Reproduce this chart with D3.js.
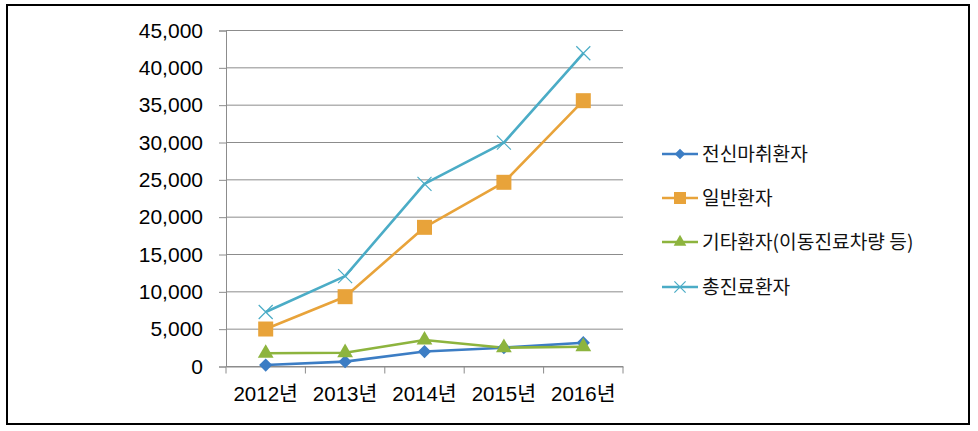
<!DOCTYPE html>
<html><head><meta charset="utf-8">
<script src="https://cdn.jsdelivr.net/npm/d3@7"></script>
<style>body{margin:0;background:#fff}svg{display:block}</style>
</head><body><svg id="c" width="978" height="431"></svg>
<script>
const categories = ["2012년","2013년","2014년","2015년","2016년"];
const seriesNames = ["전신마취환자","일반환자","기타환자(이동진료차량 등)","총진료환자"];
const general = [200, 650, 2000, 2520, 3190];
const normal = [5020, 9350, 18640, 24670, 35600];
const other = [1770, 1850, 3550, 2520, 2650];
const total = [7300, 12100, 24450, 29980, 41950];
const yTicks = [0,5000,10000,15000,20000,25000,30000,35000,40000,45000];
const colors = ["#3C7DC4","#E8A33A","#8DB43E","#4BACC6"];
const markers = ["diamond","square","triangle","cross"];
const values = [general, normal, other, total];

const svg = d3.select("#c");
svg.append("rect").attr("x",7).attr("y",5).attr("width",962).attr("height",419)
  .attr("fill","none").attr("stroke","#000").attr("stroke-width",2);

const L=226, R=623, T=30.5, B=366.5;
const x = d3.scaleBand().domain(categories).range([L,R]);
const y = d3.scaleLinear().domain([0,45000]).range([B,T]);

const g = svg.append("g");
g.selectAll("line.grid").data(yTicks).join("line")
  .attr("x1",L).attr("x2",R).attr("y1",d=>y(d)).attr("y2",d=>y(d))
  .attr("stroke","#8c8c8c").attr("stroke-width",1);

const ya = d3.axisLeft(y).tickValues(yTicks).tickSize(7).tickPadding(16)
  .tickFormat(d3.format(","));
const yg = svg.append("g").attr("transform",`translate(${L},0)`).call(ya);
yg.select(".domain").attr("stroke","#8c8c8c");
yg.selectAll(".tick line").attr("stroke","#8c8c8c");
yg.selectAll("text").attr("font-family","Liberation Sans, Arial, sans-serif")
  .attr("font-size",21).attr("fill","#000");

const xa = d3.axisBottom(x).tickSize(0).tickPadding(20);
const xg = svg.append("g").attr("transform",`translate(0,${B})`).call(xa);
xg.select(".domain").attr("stroke","#8c8c8c");
xg.selectAll("text").attr("font-family","Liberation Sans, 'Noto Sans CJK KR', sans-serif")
  .attr("font-size",20.5).attr("fill","#000");
const bounds = categories.map(c=>x(c)).concat([R]);
svg.append("g").selectAll("line").data(bounds).join("line")
  .attr("x1",d=>d).attr("x2",d=>d).attr("y1",B).attr("y2",B+7)
  .attr("stroke","#8c8c8c");

const cx = c => x(c)+x.bandwidth()/2;

function drawMarker(sel, type, color, size){
  if(type==="diamond"){
    const s=size*0.72;
    sel.append("rect").attr("x",-s/2).attr("y",-s/2).attr("width",s).attr("height",s)
      .attr("transform","rotate(45)").attr("fill",color);
  } else if(type==="square"){
    sel.append("rect").attr("x",-size/2).attr("y",-size/2).attr("width",size).attr("height",size)
      .attr("fill",color);
  } else if(type==="triangle"){
    sel.append("path").attr("d",d3.symbol(d3.symbolTriangle, size*size*0.55)())
      .attr("fill",color);
  } else {
    const h=size/2;
    sel.append("path").attr("d",`M${-h},${-h}L${h},${h}M${-h},${h}L${h},${-h}`)
      .attr("stroke",color).attr("stroke-width",1.2).attr("fill","none");
  }
}
const msize = [13,15,14,14];

values.forEach((vals,i)=>{
  const line = d3.line().x((d,j)=>cx(categories[j])).y(d=>y(d));
  svg.append("path").datum(vals).attr("d",line).attr("fill","none")
    .attr("stroke",colors[i]).attr("stroke-width",2.6).attr("stroke-linejoin","round");
});
values.forEach((vals,i)=>{
  vals.forEach((v,j)=>{
    const m = svg.append("g").attr("transform",`translate(${cx(categories[j])},${y(v)})`);
    drawMarker(m, markers[i], colors[i], msize[i]);
  });
});

const legY = [154,198,242,287];
seriesNames.forEach((n,i)=>{
  const lg = svg.append("g").attr("transform",`translate(662,${legY[i]})`);
  lg.append("line").attr("x1",0).attr("x2",36).attr("y1",0).attr("y2",0)
    .attr("stroke",colors[i]).attr("stroke-width",2.6);
  const m = lg.append("g").attr("transform","translate(18,0)");
  drawMarker(m, markers[i], colors[i], msize[i]*0.8);
  lg.append("text").attr("x",40).attr("y",0).attr("dy","0.35em")
    .attr("font-family","'Noto Sans CJK KR', sans-serif").attr("font-size",19.2)
    .attr("fill","#111").text(n);
});
</script></body></html>
